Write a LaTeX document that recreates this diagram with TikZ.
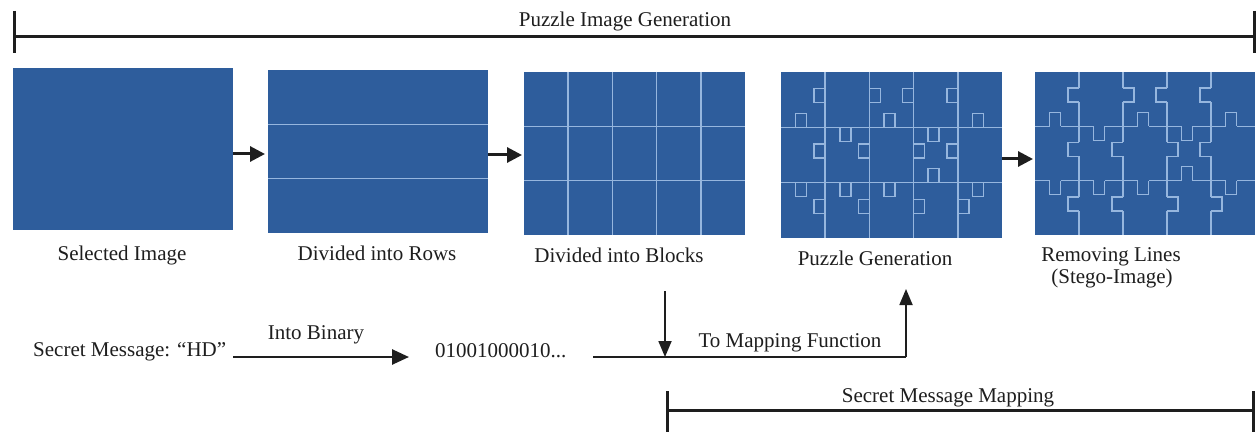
\documentclass[tikz,border=0pt]{standalone}
\usepackage{fontspec}
\setmainfont{Liberation Serif}
\usetikzlibrary{arrows.meta}
\definecolor{imgblue}{RGB}{46,93,156}
\definecolor{gridc}{RGB}{150,182,222}
\definecolor{inkc}{RGB}{30,30,30}
\newcommand\drawpuzzle[5]{%
  \pgfmathsetmacro\pzcw{#3/5}%
  \pgfmathsetmacro\pzrh{#4/3}%
  \foreach \Ki in {1,...,4} {\draw[gridl] ({#1+\Ki*\pzcw},#2) -- ({#1+\Ki*\pzcw},{#2+#4});}
  \foreach \Ri in {1,2} {\draw[gridl] (#1,{#2+\Ri*\pzrh}) -- ({#1+#3},{#2+\Ri*\pzrh});}
  \foreach \Ri/\Ci/\Di in {1/1/-1,1/2/1,1/3/-1,1/4/1,1/5/-1,2/1/1,2/2/1,2/3/1,2/4/-1,2/5/1} {
    \pgfmathsetmacro\pzx{#1+(\Ci-0.5)*\pzcw-2}
    \pgfmathsetmacro\pzy{#2+\Ri*\pzrh}
    \ifnum#5=1 \draw[erase] ({\pzx-5.5},\pzy) -- ({\pzx+5.5},\pzy);\fi
    \draw[gridl] ({\pzx-5.5},\pzy) -- ({\pzx-5.5},{\pzy+\Di*14}) -- ({\pzx+5.5},{\pzy+\Di*14}) -- ({\pzx+5.5},\pzy);
  }
  \foreach \Ki/\Ri/\Di in {1/1/-1,1/2/-1,1/3/-1,2/1/1,2/2/-1,2/3/-1,3/1/-1,3/2/1,3/3/1,4/1/-1,4/2/-1,4/3/1} {
    \pgfmathsetmacro\pzx{#1+\Ki*\pzcw}
    \pgfmathsetmacro\pzy{#2+(\Ri-0.5)*\pzrh-4}
    \ifnum#5=1 \draw[erase] (\pzx,{\pzy-7}) -- (\pzx,{\pzy+7});\fi
    \draw[gridl] (\pzx,{\pzy-7}) -- ({\pzx+\Di*11},{\pzy-7}) -- ({\pzx+\Di*11},{\pzy+7}) -- (\pzx,{\pzy+7});
  }
}
\begin{document}
\begin{tikzpicture}[x=1pt,y=-1pt,
  img/.style n args={2}{fill=imgblue,draw=none,minimum width=#1,minimum height=#2,inner sep=0pt,outer sep=0pt},
  gridl/.style={draw=gridc,line width=1.5pt,line join=miter},
  erase/.style={draw=imgblue,line width=2.8pt},
  lbl/.style={font=\fontsize{21}{25}\selectfont,text=inkc,inner sep=0pt,anchor=base},
  brk/.style={draw=inkc,line width=3pt},
  bigarr/.style={draw=inkc,line width=3pt,-{Triangle[length=15pt,width=15pt]}},
  midarr/.style={draw=inkc,line width=2.6pt,-{Triangle[length=17pt,width=15pt]}},
  thinarr/.style={draw=inkc,line width=1.8pt,-{Triangle[length=16pt,width=13pt]}},
  thinline/.style={draw=inkc,line width=1.8pt}]
\useasboundingbox[fill=white] (0,0) rectangle (1256,433);

% top bracket
\node[lbl] (tTop) at (625,27) {Puzzle Image Generation};
\coordinate (tbL) at (14,37);
\coordinate (tbR) at (1254,37);
\draw[brk] (tbL) -- (tbR);
\draw[brk] ([yshift=26pt]tbL) -- ([yshift=-16pt]tbL);
\draw[brk] ([yshift=26pt]tbR) -- ([yshift=-16pt]tbR);

% images
\node[img={220pt}{162pt}] (i1) at (123,149) {};
\node[img={220pt}{163pt}] (i2) at (378,151.5) {};
\node[img={221pt}{163pt}] (i3) at (634.5,153.5) {};
\node[img={221pt}{166pt}] (i4) at (891.5,155) {};
\node[img={220pt}{163pt}] (i5) at (1145,153.5) {};

% rows of image 2
\foreach \Ri in {1,2} {\draw[gridl] (268,{70+\Ri*163/3}) -- (488,{70+\Ri*163/3});}
% blocks of image 3
\foreach \Ri in {1,2} {\draw[gridl] (524,{72+\Ri*163/3}) -- (745,{72+\Ri*163/3});}
\foreach \Ki in {1,...,4} {\draw[gridl] ({524+\Ki*221/5},72) -- ({524+\Ki*221/5},235);}
% puzzle images
\drawpuzzle{781}{72}{221}{166}{0}
\drawpuzzle{1035}{72}{220}{163}{1}

% arrows between images
\draw[bigarr] ([yshift=-5pt]i1.east) -- ([yshift=-2.5pt,xshift=-3pt]i2.west);
\draw[bigarr] ([yshift=-3.5pt]i2.east) -- ([yshift=-1.5pt,xshift=-2pt]i3.west);
\draw[bigarr] ([yshift=-4pt]i4.east) -- ([yshift=-5.5pt,xshift=-2pt]i5.west);

% labels
\node[lbl] (l1) at (122,260) {Selected Image};
\node[lbl] (l2) at (377,260) {Divided into Rows};
\node[lbl] (l3) at (619,262) {Divided into Blocks};
\node[lbl] (l4) at (875,265) {Puzzle Generation};
\node[lbl] (l5a) at (1111,261) {Removing Lines};
\node[lbl] (l5b) at (1112,283) {(Stego-Image)};

% secret message line
\node[lbl,anchor=base west] (sm) at (33,356) {Secret Message: “HD”};
\node[lbl] (ib) at (316,339) {Into Binary};
\node[lbl,anchor=base west] (bin) at (435,357) {01001000010...};
\coordinate (ibS) at (233,357);
\coordinate (ibE) at (409,357);
\draw[midarr] (ibS) -- (ibE);

\coordinate (mapL) at (593,357);
\coordinate (mapJ) at (665,357);
\coordinate (mapR) at (906,357);
\coordinate (upTip) at (906,289);
\coordinate (downTop) at (665,291);
\draw[thinline] (mapL) -- (mapR);
\draw[thinarr] (mapR) -- (upTip);
\draw[thinarr] (downTop) -- (mapJ);
\node[lbl] (tm) at (790,347) {To Mapping Function};

% bottom bracket
\node[lbl] (tb) at (948,402) {Secret Message Mapping};
\coordinate (bbL) at (667,410);
\coordinate (bbR) at (1253,410);
\draw[brk] (bbL) -- (bbR);
\draw[brk] ([yshift=19pt]bbL) -- ([yshift=-22pt]bbL);
\draw[brk] ([yshift=19pt]bbR) -- ([yshift=-22pt]bbR);
\end{tikzpicture}
\end{document}
